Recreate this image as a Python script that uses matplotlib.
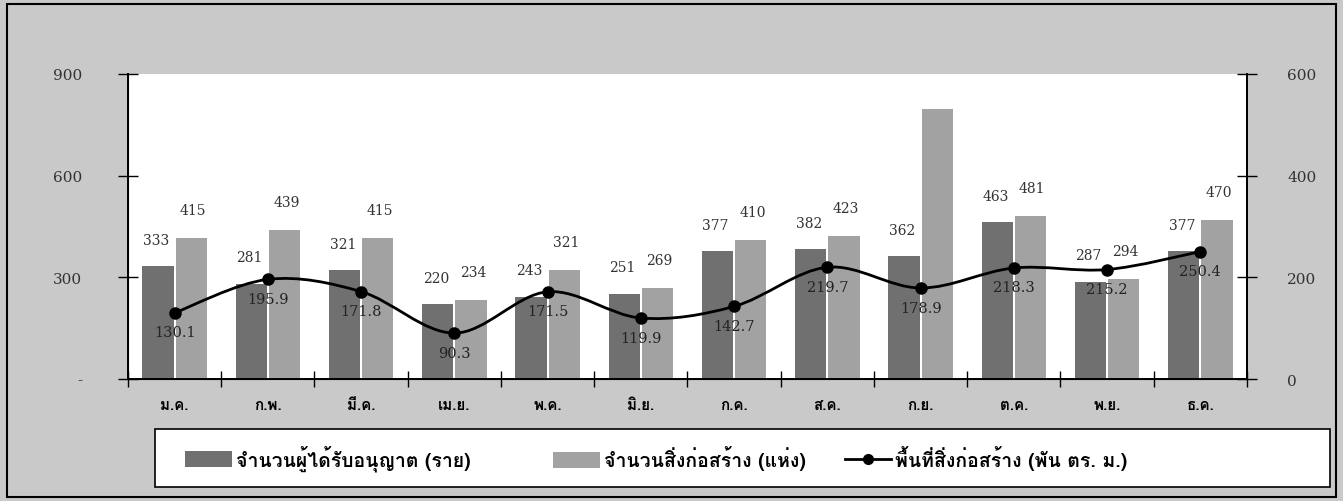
import matplotlib
matplotlib.use("Agg")
import matplotlib.pyplot as plt
from matplotlib import font_manager
from matplotlib.path import Path
from matplotlib.patches import PathPatch, Rectangle, Patch
from matplotlib.lines import Line2D
import numpy as np

months = ['ม.ค.', 'ก.พ.', 'มี.ค.', 'เม.ย.', 'พ.ค.', 'มิ.ย.',
          'ก.ค.', 'ส.ค.', 'ก.ย.', 'ต.ค.', 'พ.ย.', 'ธ.ค.']
permits = [333, 281, 321, 220, 243, 251, 377, 382, 362, 463, 287, 377]
buildings = [415, 439, 415, 234, 321, 269, 410, 423, 797, 481, 294, 470]
area = [130.1, 195.9, 171.8, 90.3, 171.5, 119.9, 142.7, 219.7, 178.9, 218.3, 215.2, 250.4]
# the tall Sep bar has no printed label in the source
building_labels = ['415', '439', '415', '234', '321', '269', '410', '423', '', '481', '294', '470']

left_ticks = [0, 300, 600, 900]
left_ticklabels = ['-', '300', '600', '900']
right_ticks = [0, 200, 400, 600]

legend_names = ['จำนวนผู้ได้รับอนุญาต (ราย)', 'จำนวนสิ่งก่อสร้าง (แห่ง)', 'พื้นที่สิ่งก่อสร้าง (พัน ตร. ม.)']


def find_thai_font():
    try:
        from fontTools.ttLib import TTFont
    except ImportError:
        return 'DejaVu Sans'
    for f in font_manager.fontManager.ttflist:
        try:
            cmap = TTFont(f.fname, fontNumber=0, lazy=True).getBestCmap()
        except Exception:
            continue
        if cmap and 0x0E01 in cmap and 0x0E35 in cmap:
            return f.name
    return 'DejaVu Sans'


thai = find_thai_font()
plt.rcParams['font.family'] = [thai, 'DejaVu Sans']
num_font = 'DejaVu Serif'

bg = '#c9c9c9'
c_perm = '#707070'
c_bld = '#a2a2a2'

fig = plt.figure(figsize=(13.43, 5.02), dpi=100)
fig.patch.set_facecolor(bg)
fig.patches.append(Rectangle((0.005, 0.008), 0.990, 0.982, transform=fig.transFigure,
                             fill=False, edgecolor='black', linewidth=1.5))

ax = fig.add_axes([0.0953, 0.243, 0.8332, 0.608])
ax.set_facecolor('white')
x = np.arange(len(months))
w = 0.335
b1 = ax.bar(x - w / 2 - 0.01, permits, w, color=c_perm, edgecolor='none')
b2 = ax.bar(x + w / 2 + 0.01, buildings, w, color=c_bld, edgecolor='none')

for i in range(len(months)):
    ax.annotate(str(permits[i]), (x[i] - w / 2, permits[i]), xytext=(-2, 14),
                textcoords='offset points', ha='center', va='bottom',
                fontsize=10, family=num_font, color='#333333')
    if building_labels[i]:
        ax.annotate(building_labels[i], (x[i] + w / 2, buildings[i]), xytext=(2, 15),
                    textcoords='offset points', ha='center', va='bottom',
                    fontsize=10, family=num_font, color='#333333')

ax.set_xlim(-0.5, 11.5)
ax.set_ylim(0, 900)
ax.set_yticks(left_ticks)
ax.set_yticklabels(left_ticklabels, family=num_font, fontsize=11, color='#333333')
ax.tick_params(axis='y', direction='inout', length=14, width=1, pad=26)
ax.set_xticks(x)
ax.set_xticklabels(months, fontsize=11, fontweight='bold')
ax.set_xticks(np.arange(-0.5, 12, 1), minor=True)
ax.tick_params(axis='x', which='major', length=0, pad=14)
ax.tick_params(axis='x', which='minor', direction='inout', length=12, width=1)
ax.spines['top'].set_visible(False)
for s in ['left', 'bottom', 'right']:
    ax.spines[s].set_linewidth(1.4)

ax2 = ax.twinx()
ax2.set_ylim(0, 600)
ax2.set_yticks(right_ticks)
ax2.set_yticklabels([str(t) for t in right_ticks], family=num_font, fontsize=11, color='#333333')
ax2.tick_params(axis='y', direction='inout', length=14, width=1, pad=22)
ax2.spines['top'].set_visible(False)
ax2.spines['right'].set_linewidth(1.4)

# smooth curve through the monthly points
verts = [(x[0], area[0])]
codes = [Path.MOVETO]
n = len(area)
for i in range(n - 1):
    p0 = np.array([x[max(i - 1, 0)], area[max(i - 1, 0)]])
    p1 = np.array([x[i], area[i]])
    p2 = np.array([x[i + 1], area[i + 1]])
    p3 = np.array([x[min(i + 2, n - 1)], area[min(i + 2, n - 1)]])
    verts += [tuple(p1 + (p2 - p0) / 6), tuple(p2 - (p3 - p1) / 6), tuple(p2)]
    codes += [Path.CURVE4] * 3
ax2.add_patch(PathPatch(Path(verts, codes), facecolor='none', edgecolor='black', linewidth=2))
ax2.plot(x, area, 'o', color='black', markersize=8)
for i in range(n):
    ax2.annotate(f'{area[i]:.1f}', (x[i], area[i]), xytext=(0, -9), textcoords='offset points',
                 ha='center', va='top', fontsize=10.5, family=num_font, color='#222222')

# legend box, one entry at a time so each sits where the source has it
fig.patches.append(Rectangle((0.1154, 0.028), 0.8746, 0.1156, transform=fig.transFigure,
                             facecolor='white', edgecolor='black', linewidth=1.2))
handles = [Patch(facecolor=c_perm), Patch(facecolor=c_bld),
           Line2D([], [], color='black', linewidth=2, marker='o', markersize=7)]
legend_x = [0.1378, 0.4118, 0.629]
for h, name, lx in zip(handles, legend_names, legend_x):
    fig.legend([h], [name], loc='center left', bbox_to_anchor=(lx, 0.086),
               frameon=False, prop={'size': 14, 'weight': 'bold'}, borderpad=0,
               borderaxespad=0, handlelength=2.4, handleheight=0.9, handletextpad=0.2)

fig.savefig('out.png', dpi=100, facecolor=bg)
